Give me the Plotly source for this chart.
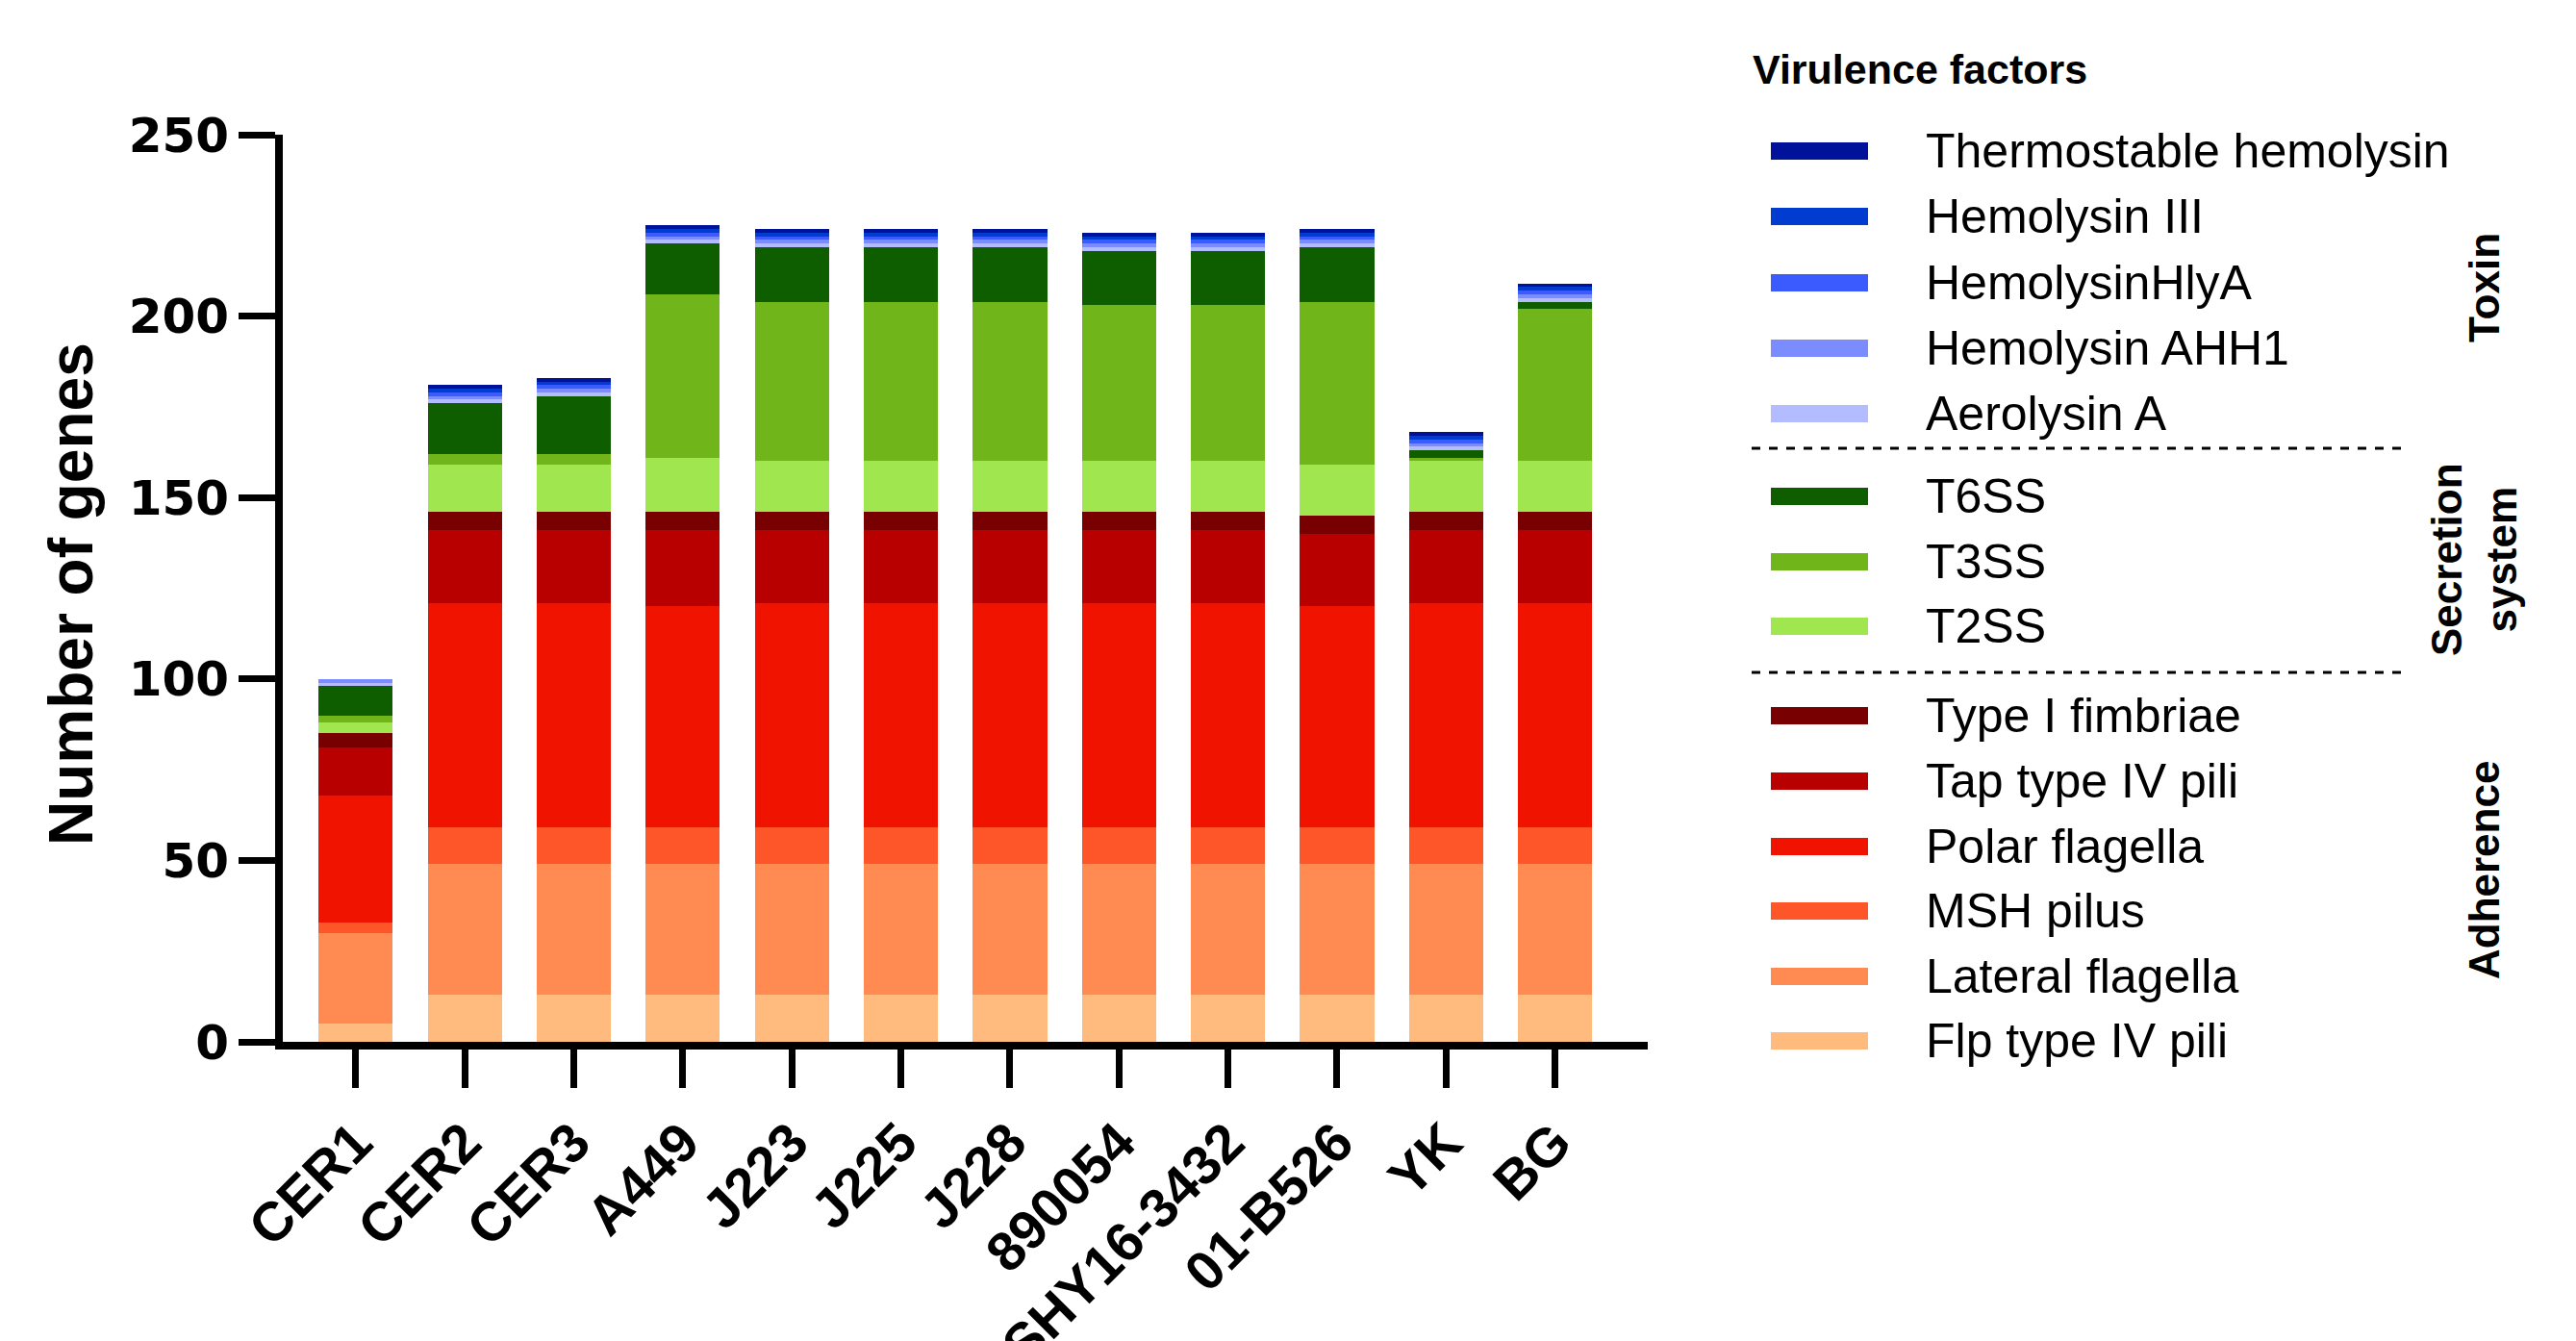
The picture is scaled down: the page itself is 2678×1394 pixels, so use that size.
import plotly.graph_objects as go

strains = ["CER1", "CER2", "CER3", "A449", "J223", "J225", "J228", "890054",
           "SHY16-3432", "01-B526", "YK", "BG"]

# stacked bottom -> top
factors = ["Flp type IV pili", "Lateral flagella", "MSH pilus", "Polar flagella",
           "Tap type IV pili", "Type I fimbriae", "T2SS", "T3SS", "T6SS",
           "Aerolysin A", "Hemolysin AHH1", "HemolysinHlyA", "Hemolysin III",
           "Thermostable hemolysin"]
colors = ["#ffba7d", "#ff8a52", "#ff5629", "#ef1300", "#b80000", "#780000",
          "#a0e64e", "#70b51a", "#0e5e00", "#b3bcff", "#7b8cff", "#3b5bff",
          "#003ccf", "#00129a"]

flp      = [5, 13, 13, 13, 13, 13, 13, 13, 13, 13, 13, 13]
lateral  = [25, 36, 36, 36, 36, 36, 36, 36, 36, 36, 36, 36]
msh      = [3, 10, 10, 10, 10, 10, 10, 10, 10, 10, 10, 10]
polar    = [35, 62, 62, 61, 62, 62, 62, 62, 62, 61, 62, 62]
tap      = [13, 20, 20, 21, 20, 20, 20, 20, 20, 20, 20, 20]
type1    = [4, 5, 5, 5, 5, 5, 5, 5, 5, 5, 5, 5]
t2ss     = [3, 13, 13, 15, 14, 14, 14, 14, 14, 14, 14, 14]
t3ss     = [2, 3, 3, 45, 44, 44, 44, 43, 43, 45, 1, 42]
t6ss     = [8, 14, 16, 14, 15, 15, 15, 15, 15, 15, 2, 2]
aerolysin = [1, 1, 1, 1, 1, 1, 1, 1, 1, 1, 1, 1]
ahh1     = [1, 1, 1, 1, 1, 1, 1, 1, 1, 1, 1, 1]
hlya     = [0, 1, 1, 1, 1, 1, 1, 1, 1, 1, 1, 1]
hly3     = [0, 1, 1, 1, 1, 1, 1, 1, 1, 1, 1, 1]
thermo   = [0, 1, 1, 1, 1, 1, 1, 1, 1, 1, 1, 1]

series = [flp, lateral, msh, polar, tap, type1, t2ss, t3ss, t6ss,
          aerolysin, ahh1, hlya, hly3, thermo]

# legend order (top -> bottom) and groups
legend_order = ["Thermostable hemolysin", "Hemolysin III", "HemolysinHlyA",
                "Hemolysin AHH1", "Aerolysin A", "T6SS", "T3SS", "T2SS",
                "Type I fimbriae", "Tap type IV pili", "Polar flagella",
                "MSH pilus", "Lateral flagella", "Flp type IV pili"]
groups = ["Toxin", "Secretion<br>system", "Adherence"]

OFF = 8  # page body margin
W, H = 2678 - OFF, 1394 - OFF
# plot area in page pixels: x 294..1713, y 140..1083
PL, PR, PT, PB = 294, 1713, 140, 1083
L, T = PL - OFF, PT - OFF
R, B = W - (PR - OFF), H - (PB - OFF)
PW, PH = PR - PL, PB - PT

def px(x):
    return (x - PL) / PW

def py(y):
    return (PB - y) / PH

fig = go.Figure()
for name, vals, col in zip(factors, series, colors):
    fig.add_trace(go.Bar(x=strains, y=vals, name=name, marker_color=col,
                         marker_line_width=0, width=0.68, showlegend=False))

fig.update_layout(
    width=W, height=H, barmode="stack",
    margin=dict(l=L, r=R, t=T, b=B, autoexpand=False),
    plot_bgcolor="white", paper_bgcolor="white",
    font=dict(family="Liberation Sans", color="black"),
)
fig.update_xaxes(range=[-0.67, 11.85], showline=True, linecolor="black",
                 linewidth=8, ticks="outside", ticklen=40, tickwidth=7,
                 tickcolor="black", tickangle=-45, showgrid=False,
                 automargin=False,
                 tickfont=dict(family="Liberation Sans", size=57, weight="bold"))
fig.update_yaxes(range=[0, 250], tickvals=[0, 50, 100, 150, 200, 250],
                 showline=True, linecolor="black", linewidth=8,
                 ticks="outside", ticklen=38, tickwidth=7, tickcolor="black",
                 showgrid=False, zeroline=False, automargin=False,
                 tickfont=dict(family="DejaVu Sans", size=50, weight="bold"))

ann = []
ann.append(dict(text="Number of genes", x=px(74), y=py(618), xref="paper",
                yref="paper", textangle=-90, showarrow=False,
                font=dict(size=64, weight="bold", family="Liberation Sans"),
                xanchor="center", yanchor="middle"))
ann.append(dict(text="Virulence factors", x=px(1820), y=py(72), xref="paper",
                yref="paper", showarrow=False, xanchor="left", yanchor="middle",
                font=dict(size=43, weight="bold", family="Liberation Sans")))

row_y = [157, 225, 294, 362, 430, 516, 584, 651, 744, 812, 880, 947, 1015, 1082]
color_of = dict(zip(factors, colors))
shapes = []
for name, yc in zip(legend_order, row_y):
    shapes.append(dict(type="rect", xref="paper", yref="paper",
                       x0=px(1841), x1=px(1942), y0=py(yc + 9), y1=py(yc - 9),
                       fillcolor=color_of[name], line_width=0))
    ann.append(dict(text=name, x=px(2000), y=py(yc), xref="paper", yref="paper",
                    showarrow=False, xanchor="left", yanchor="middle",
                    font=dict(size=50, family="Liberation Sans")))

for yd in [466, 699]:
    shapes.append(dict(type="line", xref="paper", yref="paper",
                       x0=px(1821), x1=px(2502), y0=py(yd), y1=py(yd),
                       line=dict(color="black", width=3, dash="dash")))

group_pos = [(2582, 299), (2572, 582), (2582, 905)]
for g, (gx, gy) in zip(groups, group_pos):
    ann.append(dict(text=g, x=px(gx), y=py(gy), xref="paper", yref="paper",
                    showarrow=False, textangle=-90, xanchor="center",
                    yanchor="middle",
                    font=dict(size=44, weight="bold", family="Liberation Sans")))

fig.update_layout(annotations=ann, shapes=shapes)
fig.write_html("out.html")
